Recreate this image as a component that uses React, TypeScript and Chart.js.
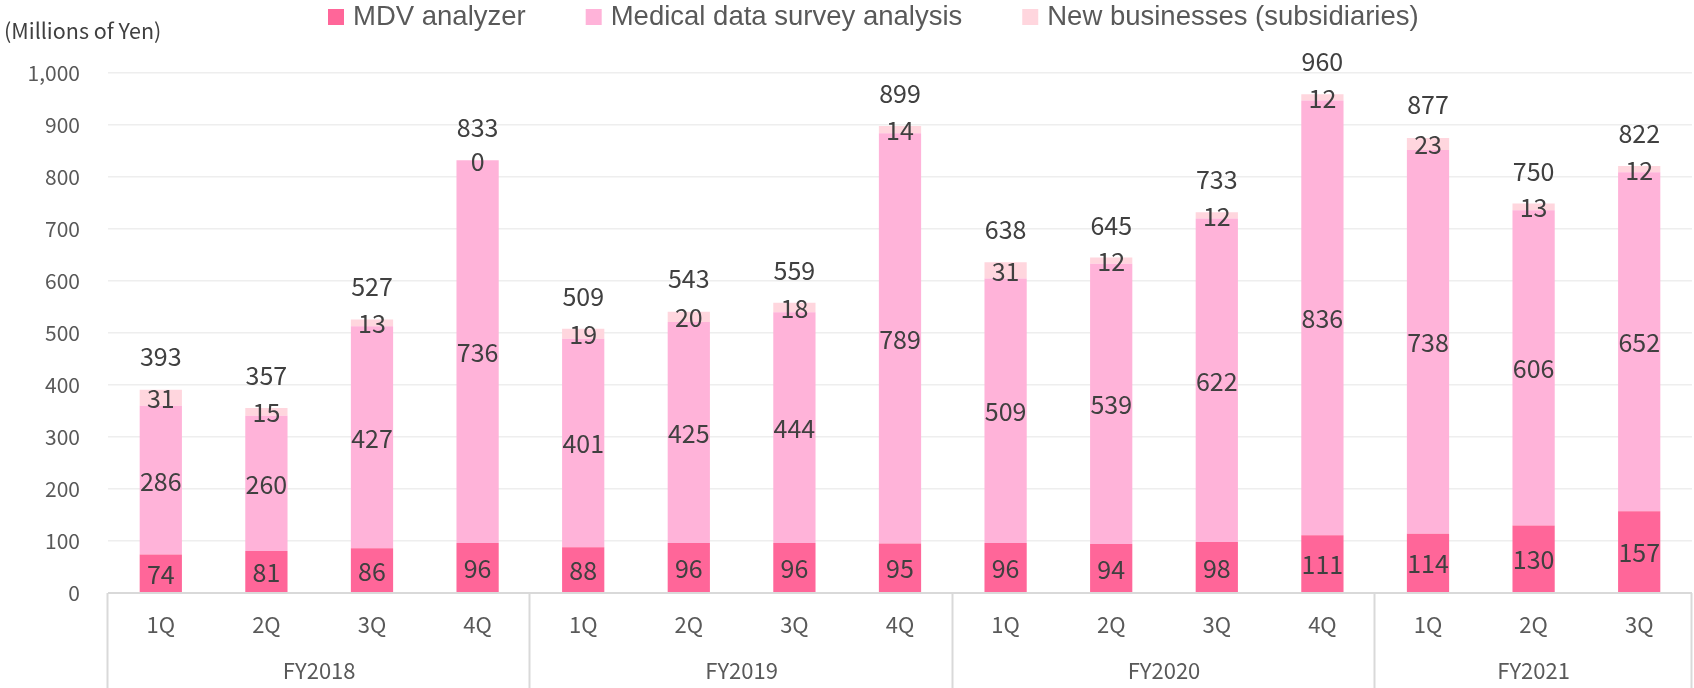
import React, { useEffect, useRef } from "react";
import { Chart, registerables } from "chart.js";

Chart.register(...registerables);

const fiscalYears = ["FY2018", "FY2019", "FY2020", "FY2021"];
const quartersPerYear = [4, 4, 4, 3];
const quarterLabels = ["1Q", "2Q", "3Q", "4Q", "1Q", "2Q", "3Q", "4Q", "1Q", "2Q", "3Q", "4Q", "1Q", "2Q", "3Q"];
const mdvAnalyzer = [74, 81, 86, 96, 88, 96, 96, 95, 96, 94, 98, 111, 114, 130, 157];
const medicalDataSurvey = [286, 260, 427, 736, 401, 425, 444, 789, 509, 539, 622, 836, 738, 606, 652];
const newBusinesses = [31, 15, 13, 0, 19, 20, 18, 14, 31, 12, 12, 12, 23, 13, 12];
const totals = [393, 357, 527, 833, 509, 543, 559, 899, 638, 645, 733, 960, 877, 750, 822];
const seriesNames = ["MDV analyzer", "Medical data survey analysis", "New businesses (subsidiaries)"];
const seriesColors = ["#FF6699", "#FFB3D9", "#FFD6DE"];
const yAxisTitle = "(Millions of Yen)";
const yMin = 0;
const yMax = 1000;
const yStep = 100;

const LABEL_FONT = "'Noto Sans CJK JP', 'Noto Sans', sans-serif";

const overlayPlugin = {
  id: "overlay",
  afterDatasetsDraw(chart: any) {
    const ctx = chart.ctx;
    const yScale = chart.scales.y;
    ctx.save();
    ctx.fillStyle = "#404040";
    ctx.font = `25px ${LABEL_FONT}`;
    ctx.textAlign = "center";
    ctx.textBaseline = "middle";
    chart.data.datasets.forEach((ds: any, di: number) => {
      const meta = chart.getDatasetMeta(di);
      meta.data.forEach((bar: any, i: number) => {
        const cy = (bar.y + bar.base) / 2;
        ctx.fillText(String(ds.data[i]), bar.x, cy + 1);
      });
    });
    const meta0 = chart.getDatasetMeta(0);
    totals.forEach((t, i) => {
      const x = meta0.data[i].x;
      const y = yScale.getPixelForValue(t) - 32;
      ctx.fillText(String(t), x, y);
    });
    ctx.restore();
  },
  afterDraw(chart: any) {
    const ctx = chart.ctx;
    const xScale = chart.scales.x;
    const area = chart.chartArea;
    const n = quarterLabels.length;
    const catW = (area.right - area.left) / n;
    const bottom = chart.height;
    ctx.save();
    // axis line
    ctx.strokeStyle = "#D9D9D9";
    ctx.lineWidth = 2;
    ctx.beginPath();
    ctx.moveTo(area.left, area.bottom);
    ctx.lineTo(area.right, area.bottom);
    ctx.stroke();
    // group separators
    let idx = 0;
    const bounds: number[] = [xScale.getPixelForValue(0) - catW / 2];
    quartersPerYear.forEach((q) => {
      idx += q;
      bounds.push(xScale.getPixelForValue(idx - 1) + catW / 2);
    });
    bounds.forEach((bx) => {
      ctx.beginPath();
      ctx.moveTo(Math.round(bx) - 0.5, area.bottom);
      ctx.lineTo(Math.round(bx) - 0.5, bottom);
      ctx.stroke();
    });
    // quarter labels
    ctx.fillStyle = "#595959";
    ctx.font = `22px ${LABEL_FONT}`;
    ctx.textAlign = "center";
    ctx.textBaseline = "middle";
    quarterLabels.forEach((lab, i) => {
      ctx.fillText(lab, xScale.getPixelForValue(i), area.bottom + 32);
    });
    // group labels
    fiscalYears.forEach((fy, gi) => {
      const cx = (bounds[gi] + bounds[gi + 1]) / 2;
      ctx.fillText(fy, cx, area.bottom + 78);
    });
    // y axis title
    ctx.fillStyle = "#404040";
    ctx.font = `21.5px ${LABEL_FONT}`;
    ctx.textAlign = "left";
    ctx.fillText(yAxisTitle, 4, 31);
    // legend
    ctx.font = "27.5px 'Liberation Sans', Arial, sans-serif";
    ctx.textBaseline = "alphabetic";
    let lx = 328;
    chart.data.datasets.forEach((ds: any) => {
      ctx.fillStyle = ds.backgroundColor;
      ctx.fillRect(lx, 9, 16, 16);
      ctx.fillStyle = "#595959";
      ctx.fillText(ds.label, lx + 25, 25);
      lx += 25 + ctx.measureText(ds.label).width + 60;
    });
    ctx.restore();
  },
};

export default function App() {
  const canvasRef = useRef<HTMLCanvasElement | null>(null);

  useEffect(() => {
    if (!canvasRef.current) return;
    const seriesData = [mdvAnalyzer, medicalDataSurvey, newBusinesses];
    const chart = new Chart(canvasRef.current, {
      type: "bar",
      data: {
        labels: quarterLabels,
        datasets: seriesData.map((d, i) => ({
          label: seriesNames[i],
          data: d,
          backgroundColor: seriesColors[i],
          borderWidth: 0,
          barPercentage: 0.4,
          categoryPercentage: 1.0,
        })),
      },
      options: {
        responsive: false,
        animation: false,
        layout: { padding: { top: 73, right: 2, left: 0, bottom: 0 } },
        plugins: {
          legend: { display: false },
          tooltip: { enabled: false },
          title: { display: false },
        },
        scales: {
          x: {
            stacked: true,
            grid: { display: false },
            border: { display: false },
            ticks: { display: false },
            afterFit: (scale: any) => {
              scale.height = 95;
            },
          },
          y: {
            stacked: true,
            min: yMin,
            max: yMax,
            ticks: {
              stepSize: yStep,
              padding: 28,
              color: "#595959",
              font: { family: LABEL_FONT, size: 21 },
              callback: (v: any) => Number(v).toLocaleString("en-US"),
            },
            grid: { color: "#EEEEEE", lineWidth: 1.5, drawTicks: false },
            border: { display: false },
            afterFit: (scale: any) => {
              scale.width = 108;
            },
          },
        },
      },
      plugins: [overlayPlugin],
    });
    return () => chart.destroy();
  }, []);

  return (
    <div style={{ position: "fixed", left: 0, top: 0, width: 1694, height: 688, background: "#fff" }}>
      <canvas ref={canvasRef} width={1694} height={688} />
    </div>
  );
}
